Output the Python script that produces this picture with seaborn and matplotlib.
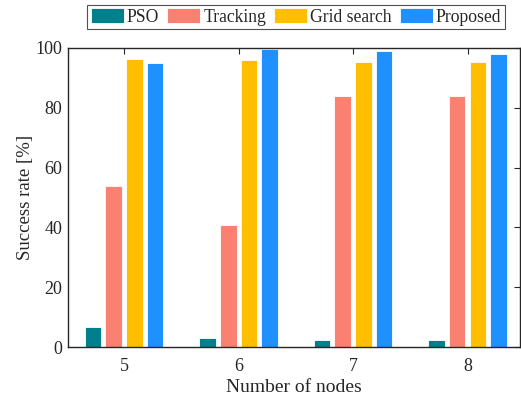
import matplotlib
matplotlib.use("Agg")
import matplotlib.pyplot as plt
import seaborn as sns
import pandas as pd

# Success rate per node count for each method
nodes = ["5", "6", "7", "8"]
methods = ["PSO", "Tracking", "Grid search", "Proposed"]
pso = [6.8, 2.9, 2.2, 2.2]
tracking = [53.8, 40.9, 84.0, 84.0]
grid_search = [96.2, 96.0, 95.4, 95.4]
proposed = [95.0, 99.5, 98.9, 98.1]
colors = ["#00808A", "#FA8072", "#FFBF00", "#1E90FF"]

rows = []
for m, vals in zip(methods, [pso, tracking, grid_search, proposed]):
    for n, v in zip(nodes, vals):
        rows.append({"Nodes": n, "Method": m, "Rate": v})
df = pd.DataFrame(rows)

sns.set_theme(style="white")
plt.rcParams["font.family"] = ["Liberation Serif", "DejaVu Serif"]

fig = plt.figure(figsize=(5.21, 3.98), dpi=100)
ax = fig.add_axes([0.1305, 0.1281, 0.868, 0.7513])

sns.barplot(data=df, x="Nodes", y="Rate", hue="Method", order=nodes,
            hue_order=methods, palette=colors, width=0.724, gap=0.2,
            saturation=1, edgecolor="white", linewidth=0.6, ax=ax)

ax.set_xlim(-0.49, 3.46)
ax.set_ylim(0, 100)
ax.set_yticks([0, 20, 40, 60, 80, 100])
ax.set_xlabel("Number of nodes", fontsize=14, labelpad=3)
ax.set_ylabel("Success rate [%]", fontsize=13.5, labelpad=1)
ax.tick_params(axis="both", which="both", direction="in", length=4,
               width=0.8, color="#262626", labelsize=13,
               top=True, right=True, labelcolor="#262626")
ax.tick_params(axis="x", pad=8)
ax.tick_params(axis="y", pad=4)
for s in ax.spines.values():
    s.set_visible(True)
    s.set_color("#262626")
    s.set_linewidth(1.0)

leg = ax.legend(loc="center", bbox_to_anchor=(0.504, 1.1037), ncol=4,
                frameon=True, fancybox=False, edgecolor="#262626",
                fontsize=12.7, handlelength=1.9, handleheight=0.95,
                handletextpad=0.15, columnspacing=0.45, borderpad=0.2,
                borderaxespad=0)
leg.get_frame().set_linewidth(0.8)

fig.savefig("out.png", dpi=100)
